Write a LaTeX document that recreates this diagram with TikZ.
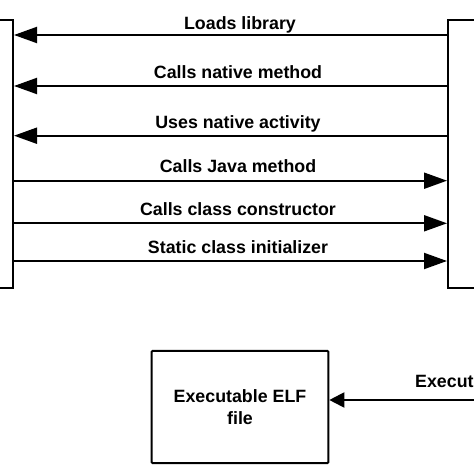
\documentclass[tikz,border=0pt]{standalone}
\usepackage{fontspec}
\setmainfont{Liberation Sans}
\usetikzlibrary{arrows.meta}
\begin{document}
\begin{tikzpicture}[x=1pt,y=1pt,
  box/.style={draw=black, line width=2pt, inner sep=0pt},
  arr/.style={line width=2pt, -{Triangle[length=23pt,width=16pt]}},
  arrs/.style={line width=2pt, -{Triangle[length=15pt,width=15pt]}},
  lbl/.style={font=\fontsize{17.8}{21.7}\selectfont\bfseries, inner sep=0pt, align=center},
  tl/.style={lbl, anchor=base}]
\useasboundingbox (0,0) rectangle (474,474);
\clip (0,0) rectangle (474,474);
\node[box, minimum width=114, minimum height=268, anchor=north east] (L) at (14,455) {};
\node[box, minimum width=100, minimum height=268, anchor=north west] (R) at (447,455) {};
\node[box, minimum width=176.6, minimum height=112.3, rounded corners=1pt, lbl] (E) at (240,67) {Executable ELF\\file};
\coordinate (X) at (480,74);
% left-pointing arrows
\draw[arr] (R.west |- 0,439) -- (L.east |- 0,439);
\draw[arr] (R.west |- 0,388) -- (L.east |- 0,388);
\draw[arr] (R.west |- 0,338.3) -- (L.east |- 0,338.3);
% right-pointing arrows
\draw[arr] (L.east |- 0,293.3) -- (R.west |- 0,293.3);
\draw[arr] (L.east |- 0,250.7) -- (R.west |- 0,250.7);
\draw[arr] (L.east |- 0,213) -- (R.west |- 0,213);
\draw[arrs] (X) -- (E.east |- X);
% labels
\node[tl] (t1) at (240,444) {Loads library};
\node[tl] (t2) at (238,395) {Calls native method};
\node[tl] (t3) at (238,345.7) {Uses native activity};
\node[tl] (t4) at (238,301.3) {Calls Java method};
\node[tl] (t5) at (238,258) {Calls class constructor};
\node[tl] (t6) at (238,220.7) {Static class initializer};
\node[lbl, anchor=base west] (t7) at (415,86.7) {Execut};
\end{tikzpicture}
\end{document}
